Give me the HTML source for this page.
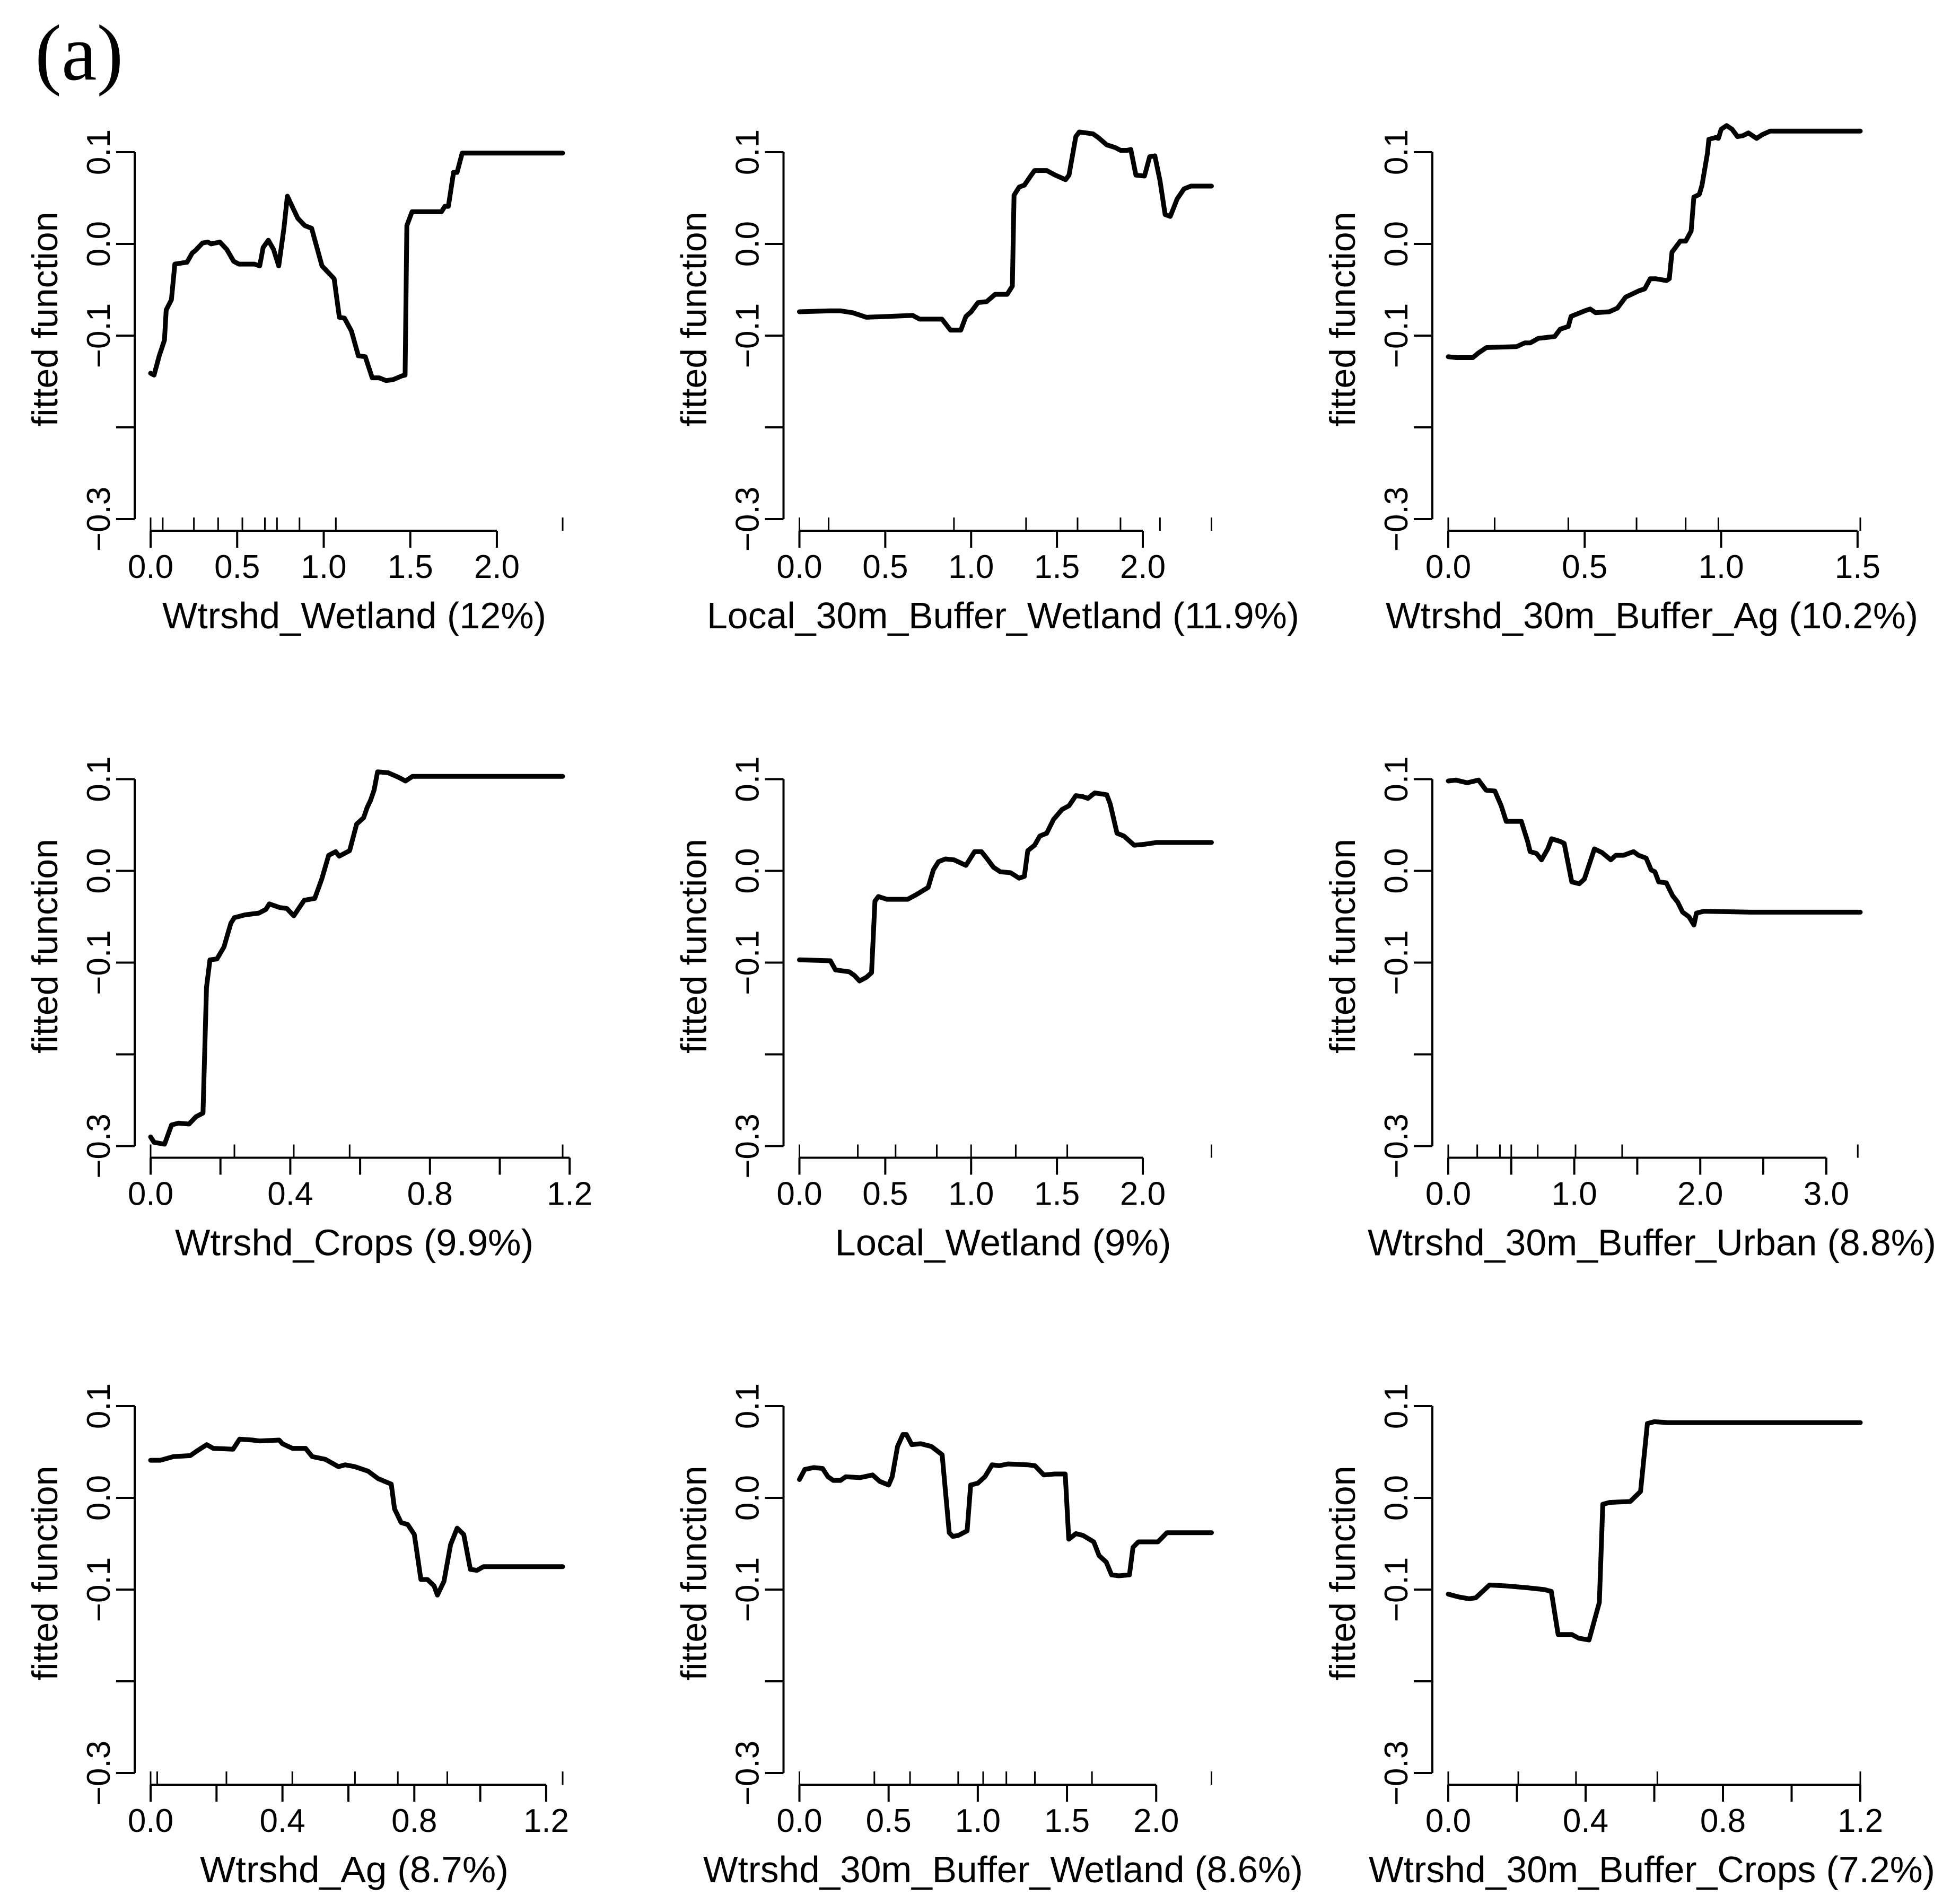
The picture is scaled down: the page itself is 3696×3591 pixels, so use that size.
<!DOCTYPE html>
<html><head><meta charset="utf-8"><style>
html,body{margin:0;padding:0;background:#fff;}
svg{display:block;}
text{font-family:"Liberation Sans",Arial,sans-serif;fill:#000;}
</style></head><body>
<svg id="fig" width="3696" height="3591" viewBox="0 0 3696 3591" xmlns="http://www.w3.org/2000/svg">
<rect width="3696" height="3591" fill="#fff"/>
<text x="66" y="150" style="font-family:'Liberation Serif',serif;font-size:150px;">(a)</text>
</svg>
<script>
// ---- data (x values, fitted function values, rug deciles) ----
const p1X=[0,0.02,0.05,0.08,0.09,0.12,0.14,0.21,0.24,0.26,0.30,0.33,0.35,0.40,0.44,0.48,0.51,0.60,0.63,0.65,0.68,0.71,0.74,0.77,0.79,0.81,0.85,0.89,0.93,0.99,1.02,1.06,1.09,1.12,1.16,1.20,1.24,1.28,1.32,1.36,1.40,1.45,1.47,1.48,1.51,1.68,1.70,1.72,1.75,1.77,1.80,2.38];
const p1Y=[-0.141,-0.143,-0.122,-0.105,-0.072,-0.061,-0.022,-0.020,-0.010,-0.007,0.001,0.002,0.000,0.002,-0.006,-0.019,-0.022,-0.022,-0.024,-0.004,0.004,-0.006,-0.024,0.017,0.052,0.044,0.028,0.020,0.017,-0.024,-0.030,-0.038,-0.080,-0.081,-0.095,-0.122,-0.123,-0.146,-0.146,-0.149,-0.148,-0.144,-0.143,0.020,0.035,0.035,0.041,0.041,0.078,0.078,0.099,0.099];
const p1Rug=[0,0.07,0.25,0.39,0.53,0.66,0.73,0.86,1.07,2.38];

const p2X=[0,0.18,0.24,0.31,0.39,0.66,0.70,0.83,0.88,0.94,0.97,1.00,1.04,1.09,1.14,1.21,1.24,1.25,1.28,1.31,1.35,1.37,1.44,1.49,1.55,1.57,1.61,1.63,1.71,1.74,1.79,1.84,1.87,1.91,1.93,1.96,2.01,2.04,2.07,2.10,2.13,2.16,2.20,2.24,2.28,2.40];
const p2Y=[-0.074,-0.073,-0.073,-0.075,-0.080,-0.078,-0.082,-0.082,-0.094,-0.094,-0.079,-0.074,-0.064,-0.063,-0.055,-0.055,-0.046,0.053,0.062,0.064,0.075,0.080,0.080,0.075,0.070,0.075,0.117,0.122,0.120,0.116,0.108,0.105,0.102,0.102,0.103,0.075,0.074,0.095,0.096,0.069,0.032,0.030,0.049,0.060,0.063,0.063];
const p2Rug=[0,0.17,0.90,1.32,1.62,1.87,2.10,2.40];

const p3X=[0,0.03,0.09,0.11,0.14,0.25,0.28,0.30,0.33,0.39,0.41,0.44,0.45,0.50,0.52,0.54,0.59,0.62,0.65,0.70,0.72,0.74,0.76,0.80,0.81,0.82,0.85,0.87,0.89,0.90,0.92,0.93,0.95,0.955,0.98,0.99,1.00,1.02,1.04,1.06,1.08,1.10,1.12,1.13,1.15,1.18,1.51];
const p3Y=[-0.123,-0.124,-0.124,-0.119,-0.113,-0.112,-0.108,-0.108,-0.103,-0.101,-0.093,-0.090,-0.079,-0.073,-0.071,-0.075,-0.074,-0.070,-0.058,-0.051,-0.049,-0.038,-0.038,-0.040,-0.038,-0.009,0.003,0.003,0.014,0.051,0.054,0.064,0.099,0.114,0.116,0.115,0.125,0.129,0.125,0.117,0.118,0.121,0.117,0.115,0.119,0.123,0.123];
const p3Rug=[0,0.17,0.44,0.69,0.87,0.99,1.51];

const p4X=[0,0.01,0.04,0.06,0.08,0.11,0.13,0.15,0.16,0.17,0.19,0.21,0.23,0.24,0.27,0.31,0.33,0.34,0.37,0.39,0.41,0.44,0.47,0.49,0.51,0.53,0.54,0.57,0.59,0.61,0.62,0.63,0.64,0.65,0.68,0.71,0.73,0.75,1.18];
const p4Y=[-0.290,-0.296,-0.298,-0.277,-0.275,-0.276,-0.268,-0.264,-0.127,-0.097,-0.096,-0.083,-0.057,-0.051,-0.048,-0.046,-0.042,-0.036,-0.040,-0.041,-0.049,-0.032,-0.030,-0.009,0.017,0.021,0.016,0.022,0.051,0.058,0.069,0.077,0.088,0.108,0.107,0.102,0.098,0.103,0.103];
const p4Rug=[0,0.24,0.41,0.57,1.18];

const p5X=[0,0.18,0.21,0.29,0.32,0.35,0.39,0.42,0.44,0.46,0.51,0.63,0.68,0.75,0.78,0.81,0.85,0.90,0.97,1.02,1.06,1.09,1.13,1.17,1.23,1.28,1.31,1.33,1.37,1.40,1.44,1.48,1.53,1.57,1.61,1.65,1.68,1.72,1.79,1.81,1.85,1.89,1.95,2.01,2.08,2.40];
const p5Y=[-0.097,-0.098,-0.108,-0.110,-0.114,-0.120,-0.116,-0.111,-0.033,-0.028,-0.031,-0.031,-0.026,-0.018,0.001,0.010,0.013,0.012,0.006,0.021,0.021,0.014,0.004,-0.001,-0.002,-0.008,-0.006,0.022,0.028,0.038,0.041,0.056,0.067,0.071,0.082,0.081,0.079,0.085,0.083,0.073,0.041,0.038,0.028,0.029,0.031,0.031];
const p5Rug=[0,0.34,0.56,0.80,1.00,1.26,1.56,2.40];

const p6X=[0,0.06,0.15,0.24,0.30,0.37,0.42,0.46,0.58,0.63,0.65,0.70,0.74,0.79,0.82,0.89,0.92,0.98,1.04,1.08,1.16,1.22,1.29,1.33,1.39,1.47,1.51,1.57,1.61,1.64,1.67,1.73,1.78,1.82,1.86,1.91,1.95,1.97,2.03,2.40,3.27];
const p6Y=[0.098,0.099,0.096,0.099,0.088,0.087,0.071,0.054,0.054,0.032,0.021,0.019,0.012,0.024,0.035,0.032,0.030,-0.012,-0.014,-0.009,0.024,0.020,0.012,0.017,0.017,0.021,0.017,0.014,0.001,-0.001,-0.012,-0.013,-0.027,-0.034,-0.045,-0.050,-0.059,-0.046,-0.044,-0.045,-0.045];
const p6Rug=[0,0.23,0.41,0.50,0.71,1.01,1.38,3.25];

const p7X=[0,0.03,0.07,0.12,0.14,0.17,0.19,0.25,0.27,0.31,0.33,0.39,0.40,0.43,0.47,0.49,0.53,0.57,0.59,0.62,0.66,0.69,0.73,0.74,0.76,0.78,0.80,0.82,0.84,0.86,0.87,0.89,0.91,0.93,0.95,0.97,0.99,1.01,1.25];
const p7Y=[0.041,0.041,0.045,0.046,0.051,0.058,0.054,0.053,0.064,0.063,0.062,0.063,0.059,0.054,0.054,0.045,0.042,0.034,0.036,0.034,0.029,0.021,0.015,-0.012,-0.027,-0.029,-0.040,-0.089,-0.089,-0.096,-0.106,-0.091,-0.051,-0.033,-0.040,-0.078,-0.079,-0.075,-0.075];
const p7Rug=[0,0.02,0.23,0.43,0.62,0.75,0.90,1.25];

const p8X=[0,0.03,0.08,0.13,0.16,0.19,0.23,0.26,0.34,0.41,0.45,0.50,0.52,0.55,0.58,0.60,0.63,0.68,0.74,0.78,0.80,0.84,0.86,0.89,0.94,0.96,1.00,1.04,1.08,1.12,1.17,1.28,1.32,1.37,1.43,1.49,1.51,1.55,1.59,1.65,1.68,1.72,1.75,1.79,1.85,1.87,1.90,2.01,2.06,2.31];
const p8Y=[0.020,0.031,0.033,0.032,0.023,0.019,0.019,0.023,0.022,0.025,0.018,0.014,0.023,0.056,0.069,0.069,0.058,0.059,0.056,0.050,0.047,-0.038,-0.042,-0.041,-0.036,0.014,0.016,0.023,0.036,0.035,0.037,0.036,0.035,0.025,0.026,0.026,-0.045,-0.039,-0.041,-0.048,-0.063,-0.070,-0.084,-0.085,-0.084,-0.054,-0.048,-0.048,-0.038,-0.038];
const p8Rug=[0,0.42,0.62,0.89,1.03,1.16,1.32,1.64,2.31];

const p9X=[0,0.03,0.06,0.08,0.12,0.17,0.23,0.28,0.30,0.32,0.36,0.38,0.41,0.44,0.45,0.47,0.53,0.56,0.58,0.60,0.64,1.20];
const p9Y=[-0.105,-0.108,-0.110,-0.109,-0.095,-0.096,-0.098,-0.100,-0.102,-0.149,-0.149,-0.153,-0.155,-0.114,-0.007,-0.005,-0.004,0.007,0.081,0.083,0.082,0.082];
const p9Rug=[0,0.204,0.372,0.609,1.2];

const xLabels=["Wtrshd_Wetland  (12%)","Local_30m_Buffer_Wetland  (11.9%)","Wtrshd_30m_Buffer_Ag  (10.2%)","Wtrshd_Crops  (9.9%)","Local_Wetland  (9%)","Wtrshd_30m_Buffer_Urban  (8.8%)","Wtrshd_Ag  (8.7%)","Wtrshd_30m_Buffer_Wetland  (8.6%)","Wtrshd_30m_Buffer_Crops  (7.2%)"];
const yTicks=[0.1,0.0,-0.1,-0.2,-0.3];
const yTickLabels=["0.1","0.0","\u22120.1","","\u22120.3"];
const p1Ticks=[0,0.5,1.0,1.5,2.0], p1TL=["0.0","0.5","1.0","1.5","2.0"];
const p2Ticks=[0,0.5,1.0,1.5,2.0], p2TL=["0.0","0.5","1.0","1.5","2.0"];
const p3Ticks=[0,0.5,1.0,1.5], p3TL=["0.0","0.5","1.0","1.5"];
const p4Ticks=[0,0.2,0.4,0.6,0.8,1.0,1.2], p4TL=["0.0","","0.4","","0.8","","1.2"];
const p5Ticks=[0,0.5,1.0,1.5,2.0], p5TL=["0.0","0.5","1.0","1.5","2.0"];
const p6Ticks=[0,0.5,1.0,1.5,2.0,2.5,3.0], p6TL=["0.0","","1.0","","2.0","","3.0"];
const p7Ticks=[0,0.2,0.4,0.6,0.8,1.0,1.2], p7TL=["0.0","","0.4","","0.8","","1.2"];
const p8Ticks=[0,0.5,1.0,1.5,2.0], p8TL=["0.0","0.5","1.0","1.5","2.0"];
const p9Ticks=[0,0.2,0.4,0.6,0.8,1.0,1.2], p9TL=["0.0","","0.4","","0.8","","1.2"];

const labelWidths=[724,1117,1004,676,634,1072,582,1131,1068];

const panels=[
 {x:p1X,y:p1Y,rug:p1Rug,t:p1Ticks,tl:p1TL,xmax:2.38},
 {x:p2X,y:p2Y,rug:p2Rug,t:p2Ticks,tl:p2TL,xmax:2.40},
 {x:p3X,y:p3Y,rug:p3Rug,t:p3Ticks,tl:p3TL,xmax:1.51},
 {x:p4X,y:p4Y,rug:p4Rug,t:p4Ticks,tl:p4TL,xmax:1.18},
 {x:p5X,y:p5Y,rug:p5Rug,t:p5Ticks,tl:p5TL,xmax:2.40},
 {x:p6X,y:p6Y,rug:p6Rug,t:p6Ticks,tl:p6TL,xmax:3.27},
 {x:p7X,y:p7Y,rug:p7Rug,t:p7Ticks,tl:p7TL,xmax:1.25},
 {x:p8X,y:p8Y,rug:p8Rug,t:p8Ticks,tl:p8TL,xmax:2.31},
 {x:p9X,y:p9Y,rug:p9Rug,t:p9Ticks,tl:p9TL,xmax:1.20}
];

const NS="http://www.w3.org/2000/svg";
const svg=document.getElementById('fig');
function mk(tag,attrs,parent){const e=document.createElementNS(NS,tag);for(const k in attrs)e.setAttribute(k,attrs[k]);parent.appendChild(e);return e;}

panels.forEach((p,i)=>{
  const c=i%3, r=Math.floor(i/3);
  const g=mk('g',{transform:`translate(${(1223.5*c).toFixed(1)},${(1182.5*r).toFixed(1)})`},svg);
  
  
  const X0=284, XEND=1061;
  const k=(XEND-X0)/p.xmax;
  const sx=v=>X0+v*k;
  const sy=v=>460-v*1730;
  const ya=mk('g',{},g);
  
  
  mk('line',{x1:254,x2:254,y1:sy(0.1),y2:sy(-0.3),stroke:'#000','stroke-width':4},ya);
  yTicks.forEach((v,j)=>{
    mk('line',{x1:219,x2:254,y1:sy(v),y2:sy(v),stroke:'#000','stroke-width':4},ya);
    if(yTickLabels[j]){
      const t=mk('text',{x:0,y:0,transform:`translate(207,${sy(v)}) rotate(-90)`,'text-anchor':'middle','font-size':62},ya);
      
      
      t.textContent=yTickLabels[j];
    }
  });
  const yl=mk('text',{x:0,y:0,transform:'translate(108,602) rotate(-90)','text-anchor':'middle','font-size':68,textLength:405,lengthAdjust:'spacingAndGlyphs'},g);
  
  
  yl.textContent='fitted function';
  const xa=mk('g',{},g);
  
  
  mk('line',{x1:sx(p.t[0]),x2:sx(p.t[p.t.length-1]),y1:1001,y2:1001,stroke:'#000','stroke-width':4},xa);
  p.t.forEach((v,j)=>{
    mk('line',{x1:sx(v),x2:sx(v),y1:1001,y2:1033,stroke:'#000','stroke-width':4},xa);
    if(p.tl[j]){
      const t=mk('text',{x:sx(v),y:1090,'text-anchor':'middle','font-size':62},xa);
      
      
      t.textContent=p.tl[j];
    }
  });
  p.rug.forEach(v=>{
    const l=mk('line',{x1:sx(v),x2:sx(v),y1:976,y2:1001,stroke:'#000','stroke-width':3},xa);
    
    
  });
  const xl=mk('text',{x:668,y:1185,'text-anchor':'middle','font-size':70,textLength:labelWidths[i],lengthAdjust:'spacingAndGlyphs'},g);
  
  
  xl.textContent=xLabels[i];
  const d=p.x.map((v,j)=>(j?'L':'M')+sx(v).toFixed(1)+','+sy(p.y[j]).toFixed(1)).join(' ');
  const path=mk('path',{d:d,fill:'none',stroke:'#000','stroke-width':9,'stroke-linejoin':'round','stroke-linecap':'round'},g);
  
  
});
</script>
</body></html>
